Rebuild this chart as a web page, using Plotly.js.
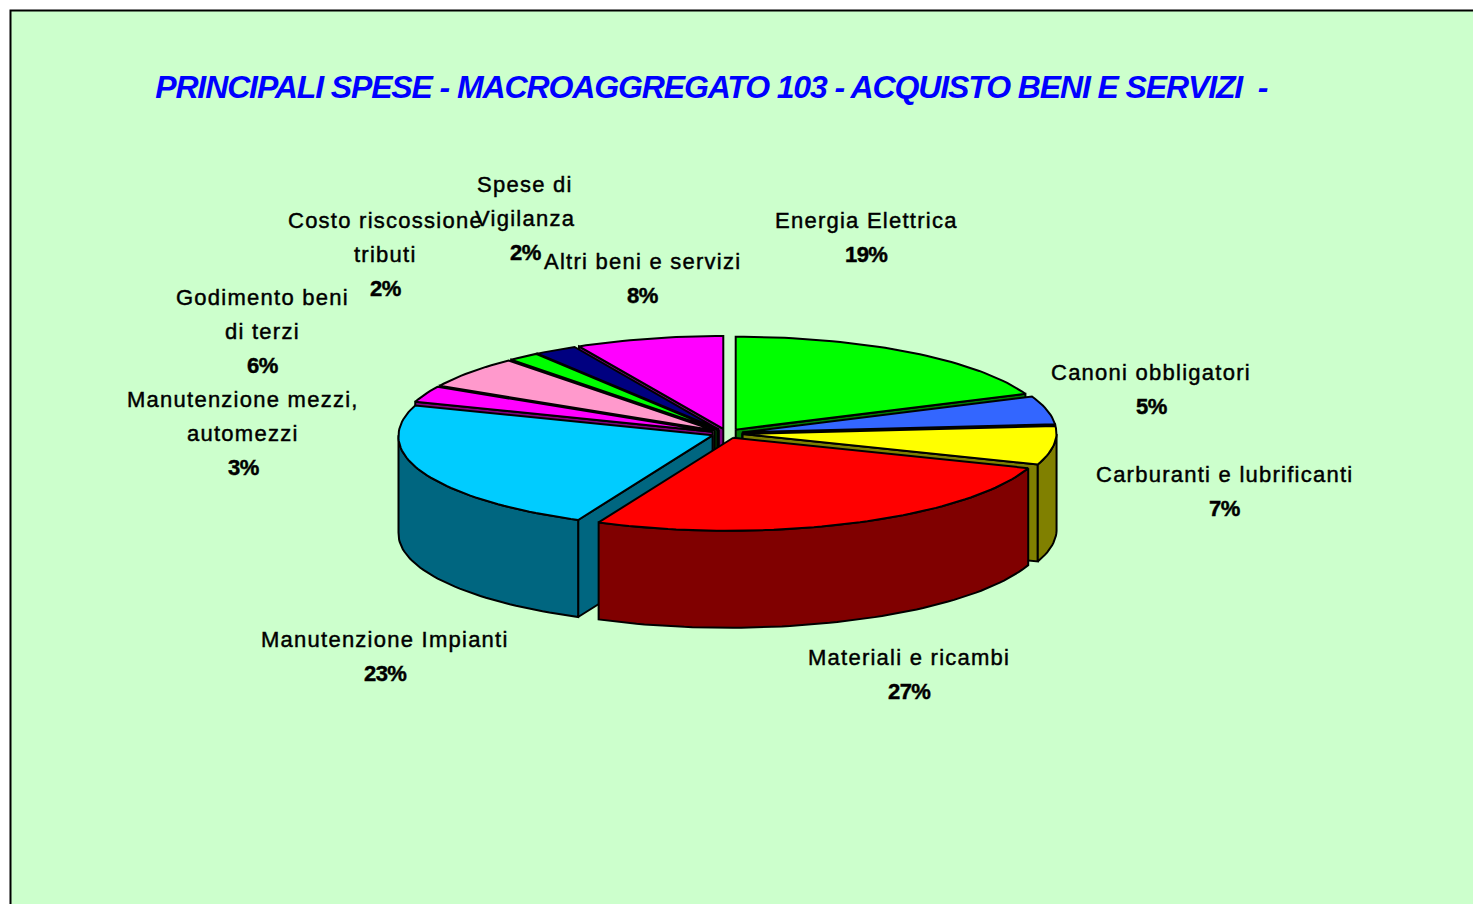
<!DOCTYPE html>
<html>
<head>
<meta charset="utf-8">
<script src="https://cdn.plot.ly/plotly-3.0.1.min.js"></script>
<style>
html,body{margin:0;padding:0;background:#fff;overflow:hidden}
.annotation-text{letter-spacing:1.25px;stroke:#000;stroke-width:0.45px}
.annotation-text tspan[style*="bold"]{letter-spacing:-0.6px}
.annotation[data-index="0"] .annotation-text{letter-spacing:-1.12px;stroke:none}
.annotation[data-index="0"] .annotation-text tspan[style*="bold"]{letter-spacing:-1.12px}
</style>
</head>
<body>
<div id="chart" style="width:1473px;height:904px"></div>
<script>
const categories = ["Energia Elettrica","Canoni obbligatori","Carburanti e lubrificanti","Materiali e ricambi","Manutenzione Impianti","Manutenzione mezzi, automezzi","Godimento beni di terzi","Costo riscossione tributi","Spese di Vigilanza","Altri beni e servizi"];
const percentages = [18.7,4.9,6.7,26.5,23.4,2.8,5.6,1.6,2.2,7.6];
const labelLines = [["Energia Elettrica"],["Canoni obbligatori"],["Carburanti e lubrificanti"],["Materiali e ricambi"],["Manutenzione Impianti"],["Manutenzione mezzi,","automezzi"],["Godimento beni","di terzi"],["Costo riscossione","tributi"],["Spese di","Vigilanza"],["Altri beni e servizi"]];
const topColors = ["#00FF00","#3366FF","#FFFF00","#FF0000","#00CCFF","#FF00FF","#FF99CC","#00FF00","#000080","#FF00FF"];
const wallColors = ["#008000","#193380","#808000","#800000","#006680","#800080","#804C66","#008000","#000040","#800080"];
const labelX = [866,1151,1224,909,385,243,262,385,525,642];
const labelY = [220,372,474,657,639,399,297,220,184,261];
const titleText = "PRINCIPALI SPESE - MACROAGGREGATO 103 - ACQUISTO BENI E SERVIZI  -";

// projection of the tilted, exploded pie into the hidden axes
const cx=727, cy=433.5, rx=314, ry=93, depth=97, explode=0.05, lineStep=34, shear=0.05;
const rad=d=>d*Math.PI/180;
const total=percentages.reduce((a,b)=>a+b,0);
const range=(a,b)=>{const n=Math.max(2,Math.ceil((b-a)/1.5)+1),o=[];for(let i=0;i<n;i++)o.push(a+(b-a)*i/(n-1));return o;};
let cum=0;
const slices=percentages.map((v,i)=>{const a=cum/total*360;cum+=v;const b=cum/total*360;const m=(a+b)/2;
  return {i,a,b,m,ox:explode*rx*Math.sin(rad(m)),oy:-explode*ry*Math.cos(rad(m))};});
const traces=[];
function poly(pts,fill,name){
  traces.push({type:"scatter",mode:"lines",x:pts.map(p=>p[0]),y:pts.map(p=>p[1]),fill:"toself",fillcolor:fill,
    line:{color:"#000",width:2,shape:"linear"},name:name,hoverinfo:"name",showlegend:false});
}
const order=slices.slice().sort((s,t)=>Math.cos(rad(t.m))-Math.cos(rad(s.m)));
order.forEach(s=>{
  const C=[cx+s.ox,cy+s.oy];
  const P=(t,d=0)=>{const y=C[1]-ry*Math.cos(rad(t));
    return [C[0]+rx*Math.sin(rad(t))-shear*Math.max(0,y-cy),y+d];};
  const name=categories[s.i];
  const wall=wallColors[s.i];
  // radial cut faces turned towards the viewer
  [[s.a,s.a-90],[s.b,s.b+90]].forEach(([t,n])=>{
    if(Math.cos(rad(n))<0){const p=P(t);poly([C,p,[p[0],p[1]+depth],[C[0],C[1]+depth],C],wall,name);}
  });
  // outer rim
  const lo=Math.max(s.a,90),hi=Math.min(s.b,270);
  if(hi>lo){const arc=range(lo,hi);
    poly(arc.map(t=>P(t)).concat(arc.slice().reverse().map(t=>P(t,depth))).concat([P(lo)]),wall,name);}
  // top face
  poly([C].concat(range(s.a,s.b).map(t=>P(t))).concat([C]),topColors[s.i],name);
});

const annotations=[{x:711,y:87,xref:"x",yref:"y",text:"<b><i>"+titleText.replace(/  /g," &nbsp;")+"</i></b>",showarrow:false,xanchor:"center",yanchor:"middle",
  font:{family:"Liberation Sans, Arial, sans-serif",size:32,color:"#0000FF"}}];
labelLines.forEach((lines,i)=>{
  lines.forEach((t,j)=>annotations.push({x:labelX[i],y:labelY[i]+j*lineStep,xref:"x",yref:"y",text:t,showarrow:false,xanchor:"center",yanchor:"middle",
    font:{family:"Liberation Sans, Arial, sans-serif",size:22,color:"#000"}}));
  annotations.push({x:labelX[i],y:labelY[i]+lines.length*lineStep,xref:"x",yref:"y",text:"<b>"+Math.round(percentages[i])+"%</b>",showarrow:false,xanchor:"center",yanchor:"middle",
    font:{family:"Liberation Sans, Arial, sans-serif",size:22,color:"#000"}});
});
const layout={width:1473,height:904,margin:{l:0,r:0,t:0,b:0},paper_bgcolor:"#fff",plot_bgcolor:"#fff",showlegend:false,
  xaxis:{range:[0,1473],visible:false,fixedrange:true},
  yaxis:{range:[904,0],visible:false,fixedrange:true},
  shapes:[{type:"rect",layer:"below",xref:"x",yref:"y",x0:10.5,y0:10.5,x1:1500,y1:940,fillcolor:"#CCFFCC",line:{color:"#000",width:2}}],
  annotations};
Plotly.newPlot("chart",traces,layout,{displayModeBar:false});
</script>
</body>
</html>
